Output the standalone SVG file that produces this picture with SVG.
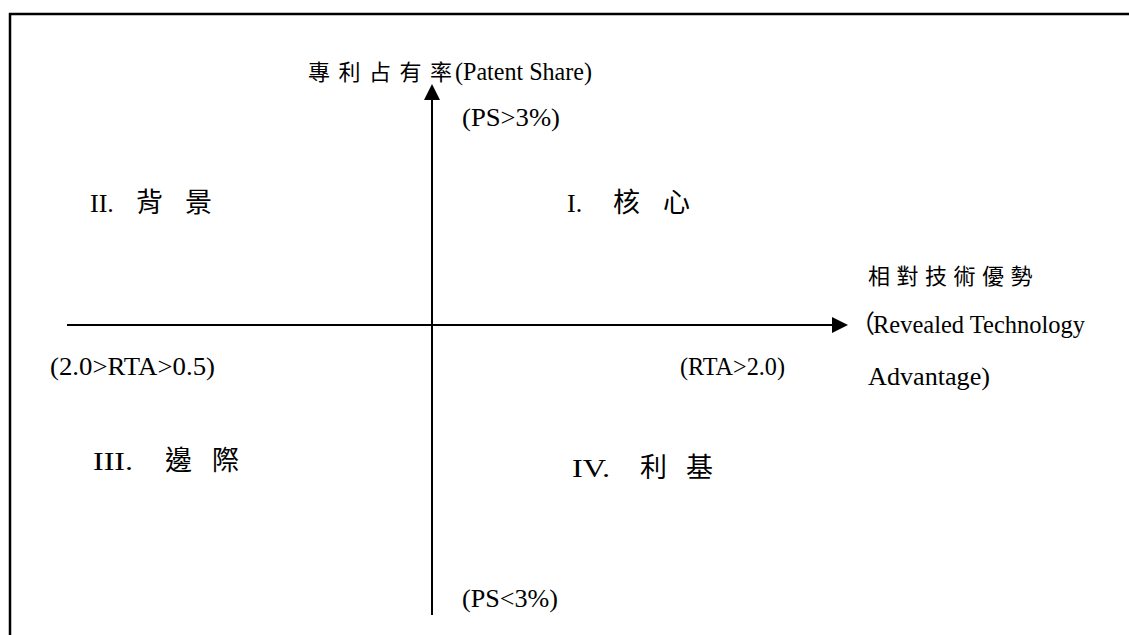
<svg xmlns="http://www.w3.org/2000/svg" width="1129" height="635" viewBox="0 0 1129 635">
<style>
.t{font-family:"Liberation Serif","Noto Sans CJK TC",serif;fill:#000}
.c{font-family:"Noto Sans CJK TC","Liberation Serif",serif;fill:#000}
.s{font-size:25px}
.q{font-size:26px}
.cs{font-size:22px;letter-spacing:6px}
.cq{font-size:27px}
.ax{stroke:#000;stroke-width:2;fill:none}
</style>
<defs>
<marker id="ah" markerWidth="8" markerHeight="8" refX="7" refY="4" orient="auto" markerUnits="strokeWidth">
<path d="M0,0 L8,4 L0,8 Z" fill="#000"/>
</marker>
</defs>
<rect width="1129" height="635" fill="#fff"/>
<path d="M10,640 V14 H1135" stroke="#000" stroke-width="2.5" fill="none"/>
<g id="connectors">
<line class="ax" x1="432" y1="615" x2="432" y2="86" marker-end="url(#ah)"/>
<line class="ax" x1="67" y1="325" x2="846" y2="325" marker-end="url(#ah)"/>
</g>
<g id="y-axis-label">
<text class="c cs" x="308" y="80" style="letter-spacing:8.5px">專利占有率</text>
<text class="t s" x="455" y="80" textLength="137" lengthAdjust="spacingAndGlyphs">(Patent Share)</text>
</g>
<g id="ps-high"><text class="t s" x="462" y="126" textLength="98" lengthAdjust="spacingAndGlyphs">(PS&gt;3%)</text></g>
<g id="q1">
<text class="t q" x="567" y="212">I.</text>
<text class="c cq" x="613" y="212" letter-spacing="23">核心</text>
</g>
<g id="q2">
<text class="t q" x="90" y="212">II.</text>
<text class="c cq" x="136" y="212" letter-spacing="22">背景</text>
</g>
<g id="x-axis-label">
<text class="c cs" x="868" y="284" style="letter-spacing:6.5px">相對技術優勢</text>
<text class="c s" x="850" y="333">（</text>
<text class="t s" x="873" y="333" textLength="212" lengthAdjust="spacingAndGlyphs">Revealed Technology</text>
<text class="t s" x="868" y="385" textLength="122" lengthAdjust="spacingAndGlyphs">Advantage)</text>
</g>
<g id="rta-low"><text class="t s" x="50" y="375" textLength="165" lengthAdjust="spacingAndGlyphs">(2.0&gt;RTA&gt;0.5)</text></g>
<g id="rta-high"><text class="t s" x="680" y="375" textLength="105" lengthAdjust="spacingAndGlyphs">(RTA&gt;2.0)</text></g>
<g id="q3">
<text class="t q" x="93" y="470" textLength="40" lengthAdjust="spacingAndGlyphs">III.</text>
<text class="c cq" x="165" y="470" letter-spacing="20">邊際</text>
</g>
<g id="q4">
<text class="t q" x="572" y="477" textLength="38" lengthAdjust="spacingAndGlyphs">IV.</text>
<text class="c cq" x="640" y="477" letter-spacing="19">利基</text>
</g>
<g id="ps-low"><text class="t s" x="462" y="607" textLength="96" lengthAdjust="spacingAndGlyphs">(PS&lt;3%)</text></g>
</svg>
